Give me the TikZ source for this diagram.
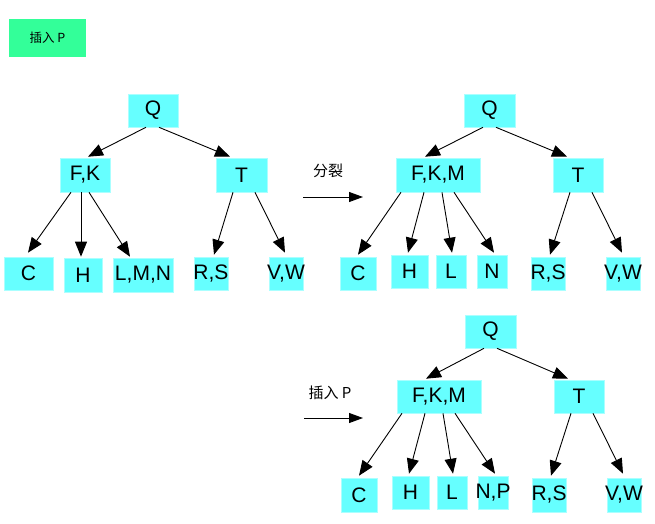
\documentclass[tikz,border=0pt]{standalone}
\usepackage{fontspec}
\setmainfont{Liberation Sans}
\newfontfamily\cjk{Noto Sans CJK SC}
\usetikzlibrary{arrows.meta}
\definecolor{keybox}{RGB}{102,255,255}
\definecolor{keyedge}{RGB}{170,255,255}
\definecolor{notebox}{RGB}{51,255,153}
% centre a label without letting it widen its box
\newcommand\ctr[1]{\makebox[0pt]{#1}}

\begin{document}
\begin{tikzpicture}[x=1pt,y=-1pt,
  key/.style={fill=keybox, draw=keyedge, line width=0.6pt, inner sep=0pt,
    minimum height=33pt, font=\fontsize{21}{21}\selectfont},
  link/.style={draw=black, line width=0.9pt, -{Triangle[length=15pt,width=12pt]}},
  flow/.style={draw=black, line width=0.9pt, -{Triangle[length=14pt,width=10pt]}},
  note/.style={font=\cjk\fontsize{15}{15}\selectfont, inner sep=0pt}]
\useasboundingbox (0,0) rectangle (655,524);

% caption box
\node[fill=notebox, minimum width=77pt, minimum height=38pt, inner sep=0pt,
  font=\cjk\fontsize{12.5}{12.5}\selectfont] (title) at (47.5,38) {插入 P};

% ---- tree before the split ----
\node[key, minimum width=50pt] (q1) at (153,110.5) {\ctr{Q}};
\node[key, minimum width=50pt, minimum height=34pt] (fk1) at (85,175) {\ctr{F,K}};
\node[key, minimum width=51pt, minimum height=34pt] (t1) at (241.5,175) {\ctr{T}};
\node[key, minimum width=49pt] (c1) at (28.5,273.5) {\ctr{C}};
\node[key, minimum width=38pt, minimum height=34pt] (h1) at (83,275) {\ctr{H}};
\node[key, minimum width=60pt, minimum height=34pt] (lmn1) at (143,275) {\ctr{L,M,N}};
\node[key, minimum width=34pt] (rs1) at (211,273.5) {\ctr{R,S}};
\node[key, minimum width=34pt] (vw1) at (286,273.5) {\ctr{V,W}};

\draw[link] ([xshift=-7pt]q1.south) -- ([xshift=3pt,yshift=1pt]fk1.north);
\draw[link] ([xshift=6pt]q1.south) -- ([xshift=-11.5pt,yshift=1pt]t1.north);
\draw[link] ([xshift=-14pt]fk1.south) -- ([xshift=-0.5pt,yshift=4pt]c1.north);
\draw[link] ([xshift=-4pt]fk1.south) -- ([xshift=-2pt,yshift=1pt]h1.north);
\draw[link] ([xshift=4pt]fk1.south) -- ([xshift=-13pt,yshift=1pt]lmn1.north);
\draw[link] ([xshift=-8.5pt]t1.south) -- ([xshift=3pt,yshift=2pt]rs1.north);
\draw[link] ([xshift=13.5pt]t1.south) -- ([xshift=-1pt,yshift=4pt]vw1.north);

% ---- split step ----
\node[note] (lbl2) at (328,171) {分裂};
\coordinate (a2s) at (303,197);
\coordinate (a2e) at (363,197);
\draw[flow] (a2s) -- (a2e);

\node[key, minimum width=51pt] (q2) at (489.5,110.5) {\ctr{Q}};
\node[key, minimum width=84pt, minimum height=34pt] (fkm2) at (438,175) {\ctr{F,K,M}};
\node[key, minimum width=50pt, minimum height=34pt] (t2) at (578,175) {\ctr{T}};
\node[key, minimum width=36pt] (c2) at (358,273.5) {\ctr{C}};
\node[key, minimum width=37pt] (h2) at (409.5,271.5) {\ctr{H}};
\node[key, minimum width=30pt] (l2) at (451,271.5) {\ctr{L}};
\node[key, minimum width=30pt] (n2) at (492,271.5) {\ctr{N}};
\node[key, minimum width=34pt] (rs2) at (548,273.5) {\ctr{R,S}};
\node[key, minimum width=34pt] (vw2) at (623,273.5) {\ctr{V,W}};

\draw[link] ([xshift=-6.5pt]q2.south) -- ([xshift=-13pt,yshift=1pt]fkm2.north);
\draw[link] ([xshift=6.5pt]q2.south) -- ([xshift=-11pt,yshift=1pt]t2.north);
\draw[link] ([xshift=-37pt]fkm2.south) -- ([yshift=2pt]c2.north);
\draw[link] ([xshift=-14pt]fkm2.south) -- ([xshift=-1.5pt,yshift=2pt]h2.north);
\draw[link] ([xshift=4pt]fkm2.south) -- ([xshift=1pt,yshift=2pt]l2.north);
\draw[link] ([xshift=16pt]fkm2.south) -- ([xshift=2pt,yshift=2pt]n2.north);
\draw[link] ([xshift=-8pt]t2.south) -- ([xshift=2pt,yshift=2pt]rs2.north);
\draw[link] ([xshift=14pt]t2.south) -- ([xshift=-1pt,yshift=4pt]vw2.north);

% ---- insertion step ----
\node[note] (lbl3) at (330,393) {插入 P};
\coordinate (a3s) at (304,418);
\coordinate (a3e) at (363,418);
\draw[flow] (a3s) -- (a3e);

\node[key, minimum width=51pt] (q3) at (490.5,331.5) {\ctr{Q}};
\node[key, minimum width=84pt] (fkm3) at (439,396.5) {\ctr{F,K,M}};
\node[key, minimum width=50pt] (t3) at (579,396.5) {\ctr{T}};
\node[key, minimum width=36pt, minimum height=34pt] (c3) at (359,495) {\ctr{C}};
\node[key, minimum width=37pt] (h3) at (410.5,492.5) {\ctr{H}};
\node[key, minimum width=30pt] (l3) at (452,492.5) {\ctr{L}};
\node[key, minimum width=30pt] (np3) at (493,492.5) {\ctr{N,P}};
\node[key, minimum width=34pt, minimum height=34pt] (rs3) at (549,495) {\ctr{R,S}};
\node[key, minimum width=34pt, minimum height=34pt] (vw3) at (624,495) {\ctr{V,W}};

\draw[link] ([xshift=-6.5pt]q3.south) -- ([xshift=-13pt,yshift=1pt]fkm3.north);
\draw[link] ([xshift=6.5pt]q3.south) -- ([xshift=-11pt,yshift=1pt]t3.north);
\draw[link] ([xshift=-37pt]fkm3.south) -- ([yshift=2pt]c3.north);
\draw[link] ([xshift=-14pt]fkm3.south) -- ([xshift=-1.5pt,yshift=2pt]h3.north);
\draw[link] ([xshift=4pt]fkm3.south) -- ([xshift=1pt,yshift=2pt]l3.north);
\draw[link] ([xshift=16pt]fkm3.south) -- ([xshift=2pt,yshift=2pt]np3.north);
\draw[link] ([xshift=-8pt]t3.south) -- ([xshift=2pt,yshift=2pt]rs3.north);
\draw[link] ([xshift=14pt]t3.south) -- ([xshift=-1pt,yshift=4pt]vw3.north);
\end{tikzpicture}
\end{document}
